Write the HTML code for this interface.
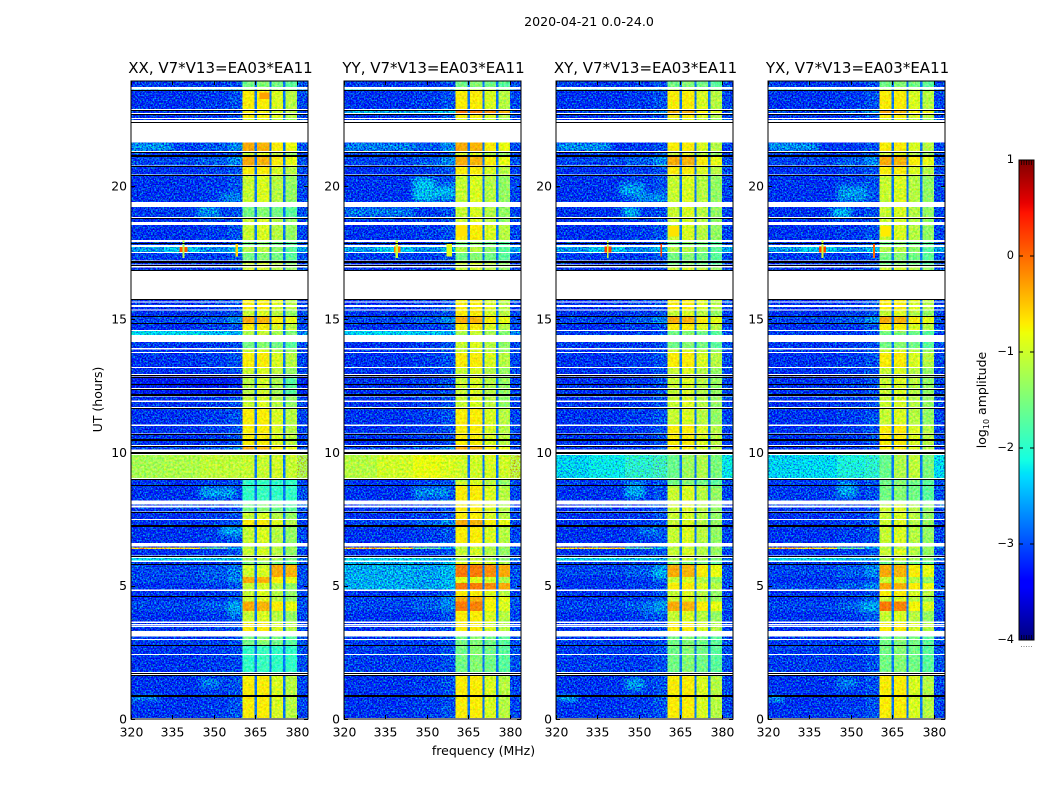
<!DOCTYPE html>
<html lang="en">
<head>
<meta charset="utf-8">
<title>2020-04-21 dynamic spectra</title>
<style>
html,body{margin:0;padding:0;background:#fff;}
svg{display:block;}
text{font-family:"DejaVu Sans","Liberation Sans",sans-serif;fill:#000;}
.tick{font-size:12.4px;}
.title{font-size:15px;}
.label{font-size:12.5px;}
</style>
</head>
<body>
<svg id="chart" xmlns="http://www.w3.org/2000/svg" width="1050" height="800" viewBox="0 0 1050 800">
<defs>
<filter id="speckle-strong" filterUnits="userSpaceOnUse" x="0" y="0" width="1050" height="800" color-interpolation-filters="sRGB">
<feTurbulence type="fractalNoise" baseFrequency="0.62" numOctaves="2" seed="7" result="n"/>
<feColorMatrix in="n" type="matrix" values="0 0 0 0 0.5  2.0 0 0 0 -0.5  0 1.6 0 0 -0.3  0 0 0 0 1" result="m"/>
<feComposite in="SourceGraphic" in2="m" operator="arithmetic" k1="0" k2="1" k3="1" k4="-0.5" result="c"/>
<feComposite in="c" in2="SourceGraphic" operator="in"/>
</filter>
<filter id="speckle-soft" filterUnits="userSpaceOnUse" x="0" y="0" width="1050" height="800" color-interpolation-filters="sRGB">
<feTurbulence type="fractalNoise" baseFrequency="0.45" numOctaves="2" seed="11" result="n"/>
<feColorMatrix in="n" type="matrix" values="0.7 0 0 0 0.15  0 0.4 0 0 0.3  0 0 0.6 0 0.2  0 0 0 0 1" result="m"/>
<feComposite in="SourceGraphic" in2="m" operator="arithmetic" k1="0" k2="1" k3="1" k4="-0.5" result="c"/>
<feComposite in="c" in2="SourceGraphic" operator="in"/>
</filter>
<filter id="patch-blur" x="-40%" y="-60%" width="180%" height="220%">
<feGaussianBlur stdDeviation="3"/>
</filter>
</defs>
<text x="589" y="26" text-anchor="middle" font-size="12.6">2020-04-21 0.0-24.0</text>
<text class="label" x="483.5" y="755" text-anchor="middle">frequency (MHz)</text>
<text class="label" transform="translate(102,399.5) rotate(-90)" text-anchor="middle">UT (hours)</text>
<text class="label" transform="translate(986,400) rotate(-90)" text-anchor="middle">log<tspan font-size="8" dy="3">10</tspan><tspan dy="-3"> amplitude</tspan></text>
</svg>
<script>
const panelNames = ["XX", "YY", "XY", "YX"];
const panelLefts = [131, 344, 556, 768];
const freqTicks = [320, 335, 350, 365, 380];
const timeTicks = [0, 5, 10, 15, 20];
const colorbarTicks = [1, 0, -1, -2, -3, -4];
const freqBandEdges = [320, 332, 345, 355, 360.4, 364.6, 365.6, 370, 370.8, 375, 375.9, 380, 384];
const gapBandLevel = -2.8;

const rowStarts = [0.04,0.90,1.76,2.44,2.78,3.00,3.30,3.50,3.57,3.66,4.05,4.40,4.62,4.85,5.10,5.33,5.82,5.95,6.13,6.38,6.44,6.60,7.28,7.51,7.78,8.00,8.19,8.78,9.04,10.11,10.28,10.50,10.70,11.04,11.70,11.95,12.17,12.41,12.57,12.84,12.94,13.21,13.77,13.92,14.40,14.59,14.86,15.12,15.36,15.52,15.66,16.84,17.05,17.20,17.52,17.78,17.86,17.97,18.64,18.83,19.40,20.42,20.76,21.16,21.30,22.47,22.54,22.73,22.88,23.61,23.70];
const rowEnds = [0.83,1.61,2.40,2.76,2.96,3.09,3.45,3.53,3.60,4.05,4.40,4.58,4.80,5.10,5.33,5.78,5.89,6.03,6.38,6.44,6.47,7.20,7.47,7.75,7.93,8.05,8.74,8.97,9.90,10.22,10.43,10.65,10.99,11.65,11.89,12.10,12.38,12.53,12.79,12.88,13.17,13.73,13.86,14.15,14.55,14.82,15.07,15.32,15.46,15.63,15.72,16.94,17.12,17.48,17.70,17.82,17.90,18.53,18.79,19.20,20.37,20.72,21.08,21.23,21.62,22.51,22.66,22.84,23.58,23.64,23.95];

const thinFlagTimes = [1.64,1.74,2.77,4.60,5.80,6.11,7.76,8.76,9.01,10.25,10.68,11.68,12.39,12.55,12.82,12.91,14.84,15.10,15.74,16.86,17.03,17.84,18.80,20.39,20.74,21.27,22.40,22.71,22.85,23.59];
const thickFlagTimes = [0.87,7.25,9.96,10.47,12.14,17.16,21.11];

/* log10 amplitude per band: low1..low4, yellow1..yellow4, upper edge */
const profileA = [-3.15,-3.15,-3.1,-3.0,-1.05,-0.95,-1.15,-1.35,-3.05];
const profileB = [-3.15,-3.15,-3.1,-3.0,-0.7,-0.7,-0.95,-1.15,-3.05];
const profileC = [-3.05,-3.05,-2.95,-2.75,-0.35,-0.4,-0.7,-0.85,-3.0];
const profileD = [-2.55,-2.55,-2.6,-2.5,-0.1,-0.1,-0.2,-0.35,-3.0];
const profileE = [-3.15,-3.15,-3.1,-3.05,-1.95,-1.9,-1.95,-1.95,-3.0];
const profileF = [-3.1,-3.1,-3.1,-3.0,-1.55,-1.45,-1.55,-1.7,-3.0];
const profileH = [-2.35,-2.35,-2.45,-2.55,-1.2,-1.05,-1.25,-1.45,-2.8];
const profileI = [-1.25,-1.2,-1.1,-1.1,-1.05,-1.05,-1.0,-1.05,-1.2];
const profileJ = [-1.15,-1.0,-0.85,-0.95,-1.0,-1.0,-0.95,-1.0,-1.1];
const profileK = [-2.35,-2.2,-2.0,-1.9,-1.6,-1.3,-1.2,-1.5,-2.2];
const profileL = [-2.35,-2.3,-2.1,-2.0,-1.6,-1.2,-1.1,-1.5,-2.3];
const profileM = [-3.3,-3.3,-3.3,-3.2,-1.15,-1.0,-1.25,-1.7,-3.25];
const profileO = [-0.5,-0.7,-1.6,-2.5,-1.2,-1.2,-1.2,-1.3,-2.8];
const profileP = [-2.65,-2.4,-2.7,-2.5,-1.2,-1.15,-1.4,-1.7,-2.6];
const profileR = [-2.55,-2.55,-2.6,-2.5,-0.9,-0.9,-1.0,-1.2,-3.0];
const profileS = [-3.05,-3.05,-2.95,-2.8,-1.0,-0.95,-0.35,-0.4,-3.0];
const profileT = [-3.05,-3.05,-2.95,-2.75,-0.1,-0.15,-0.75,-0.95,-3.0];
const profileLookup = {A:profileA,B:profileB,C:profileC,D:profileD,E:profileE,F:profileF,H:profileH,I:profileI,J:profileJ,K:profileK,L:profileL,M:profileM,O:profileO,P:profileP,R:profileR,S:profileS,T:profileT};

const xxRowProfile = [..."BBEEFFBBBACAAACSFHAOAABAFFEEICBBBBAAMMMMABAFHBCABBBAAFPFFAAFABCACABBBHF"];
const yyRowProfile = [..."BBFFFFBBBBTCBDRDRHAOABCBBBBAJCBBBBAAAAAAABAAHBCBBBBAAFPFFBAAABCACABDBHF"];
const xyRowProfile = [..."BBFFFFBBBACAABACFHAOAAAAAAAFKBBBBAAAAAAAABAFFBCABBBAFFPFFAAAABCABABCBHF"];
const yxRowProfile = [..."BBFFFFBBBATABCACFHAOAAAAAAFFLBBBBAAAAAAAABAFFBCABBBAFFPFFAAAABCABABCBHF"];
const panelRowProfiles = [xxRowProfile, yyRowProfile, xyRowProfile, yxRowProfile];

const patchPanels = [0,0,0,0,0,0,0,0, 1,1,1,1,1, 2,2,2,2,2,2,2,2,2,2,2, 3,3,3,3,3,3,3];
const patchTimeStarts = [18.85,19.4,21.3,8.3,6.9,1.2,3.9,0.7, 19.4,19.5,18.85,21.3,8.3, 19.6,19.4,18.85,21.3,8.3,4.0,5.3,1.1,0.7,6.9,3.9, 19.4,18.85,21.3,8.3,4.0,0.7,1.2];
const patchTimeEnds = [19.2,19.7,21.62,8.7,7.2,1.5,4.4,0.85, 20.3,20.0,19.2,21.6,8.7, 20.1,19.7,19.2,21.62,8.9,4.4,5.6,1.5,0.85,7.2,4.4, 20.0,19.15,21.62,8.9,4.4,0.85,1.5];
const patchFreqStarts = [344,352,320,345,352,345,355,320, 345,352,320,320,345, 343,348,344,320,345,355,355,345,320,350,351, 345,343,320,345,353,320,345];
const patchFreqEnds = [352,360.4,335,358,360.4,352,360.4,330, 353,360.4,345,345,358, 352,360.4,350,340,352,360.4,360.4,352,328,358,355, 356,350,338,352,360.4,326,352];
const patchLevels = [-2.6,-2.7,-2.6,-2.6,-2.5,-2.7,-2.6,-2.5, -2.45,-2.5,-2.75,-2.7,-2.7, -2.6,-2.65,-2.45,-2.6,-2.55,-2.65,-2.5,-2.6,-2.2,-2.8,-2.8, -2.65,-2.35,-2.6,-2.6,-2.6,-2.3,-2.7];

const spotPanels = [0,0,0,0, 1,1,1,1, 2,2,2,2, 3,3,3,3];
const spotTimeStarts = [17.52,17.3,17.35,23.25, 17.5,17.3,17.35,18.1, 17.5,17.3,17.35,18.1, 17.5,17.3,17.3,18.1];
const spotTimeEnds = [17.70,17.95,17.85,23.5, 17.72,17.95,17.85,18.5, 17.72,17.95,17.85,18.5, 17.72,17.95,17.85,18.5];
const spotFreqStarts = [337.5,338.7,357.8,366.5, 338,338.7,357,360.6, 337.5,338.5,357.7,360.6, 338.5,339.3,358,360.6];
const spotFreqEnds = [340.5,339.4,358.6,370, 340.5,339.6,359,364.5, 340,339,358.4,364.5, 341,340,358.7,364.5];
const spotLevels = [0.1,-1.2,-0.6,-0.3, -0.1,-1.0,-0.9,-0.65, 0.2,-1.0,0.2,-0.65, 0.2,-1.0,0.0,-0.7];

const NS = "http://www.w3.org/2000/svg";
const svg = document.getElementById("chart");
const defs = svg.querySelector("defs");
const panelWidth = 177;
const plotBottom = 719;
const plotTop = 81;
const pxPerHour = 26.66;
const pxPerMHz = panelWidth / 64;
const barLeft = 1019, barWidth = 15, barTop = 160, barHeight = 480;

function xScale(left, mhz) { return left + (mhz - 320) * pxPerMHz; }
function yScale(hours) { return Math.max(plotTop, plotBottom - hours * pxPerHour); }
function ramp(v, a, b) { return Math.min(1, Math.max(0, (v - a) / (b - a))); }
function jet(level) {
  const n = ramp(level, -4, 1);
  const r = n < 0.89 ? ramp(n, 0.35, 0.66) : 1 - 0.5 * ramp(n, 0.89, 1);
  const g = n < 0.64 ? ramp(n, 0.125, 0.375) : 1 - ramp(n, 0.64, 0.91);
  const b = n < 0.34 ? 0.5 + 0.5 * ramp(n, 0, 0.11) : 1 - ramp(n, 0.34, 0.65);
  return "rgb(" + Math.round(r * 255) + "," + Math.round(g * 255) + "," + Math.round(b * 255) + ")";
}
function node(parent, tag, attrs) {
  const el = document.createElementNS(NS, tag);
  for (const k in attrs) el.setAttribute(k, attrs[k]);
  parent.appendChild(el);
  return el;
}
function bandLevel(profile, band) {
  if (band === 5 || band === 7 || band === 9) return gapBandLevel;
  if (band < 5) return profile[band];
  if (band === 6) return profile[5];
  if (band === 8) return profile[6];
  if (band === 10) return profile[7];
  return profile[8];
}

panelNames.forEach(function (name, p) {
  const left = panelLefts[p];
  const panel = node(svg, "g", {});
  
  
  const lowGroup = node(panel, "g", {filter: "url(#speckle-strong)", "shape-rendering": "crispEdges"});
  
  
  const highGroup = node(panel, "g", {filter: "url(#speckle-soft)", "shape-rendering": "crispEdges"});
  
  
  const rowClip = node(defs, "clipPath", {id: "row-clip-" + p});
  rowStarts.forEach(function (start, r) {
    const profile = profileLookup[panelRowProfiles[p][r]];
    const y0 = yScale(rowEnds[r]);
    const y1 = yScale(start);
    node(rowClip, "rect", {x: left, y: y0, width: xScale(left, 360.4) - left, height: y1 - y0});
    for (let band = 0; band < freqBandEdges.length - 1; band++) {
      const x0 = xScale(left, freqBandEdges[band]);
      const x1 = xScale(left, freqBandEdges[band + 1]);
      const flat = profile === profileI || profile === profileJ;
      const target = (band >= 4 && band <= 10) || (flat && band !== 11) ? highGroup : lowGroup;
      const cell = node(target, "rect", {x: x0, y: y0, width: x1 - x0, height: y1 - y0, fill: jet(bandLevel(profile, band))});
      
      
    }
  });
  const patchClip = node(lowGroup, "g", {"clip-path": "url(#row-clip-" + p + ")"});
  
  
  patchPanels.forEach(function (pp, i) {
    if (pp !== p) return;
    const x0 = xScale(left, patchFreqStarts[i]);
    const y0 = yScale(patchTimeEnds[i]);
    const patch = node(patchClip, "rect", {x: x0, y: y0, width: xScale(left, patchFreqEnds[i]) - x0, height: yScale(patchTimeStarts[i]) - y0, fill: jet(patchLevels[i]), filter: "url(#patch-blur)", "shape-rendering": "auto"});
    
    
  });
  const spotGroup = node(panel, "g", {"shape-rendering": "crispEdges"});
  
  
  spotPanels.forEach(function (sp, i) {
    if (sp !== p) return;
    const x0 = xScale(left, spotFreqStarts[i]);
    const y0 = yScale(spotTimeEnds[i]);
    const spot = node(spotGroup, "rect", {x: x0, y: y0, width: xScale(left, spotFreqEnds[i]) - x0, height: yScale(spotTimeStarts[i]) - y0, fill: jet(spotLevels[i])});
    
    
  });
  const flagGroup = node(panel, "g", {"shape-rendering": "crispEdges", fill: "#000"});
  
  
  thinFlagTimes.forEach(function (t) {
    const line = node(flagGroup, "rect", {x: left, y: Math.round(yScale(t)), width: panelWidth, height: 1});
    
    
  });
  thickFlagTimes.forEach(function (t) {
    const line = node(flagGroup, "rect", {x: left, y: Math.round(yScale(t)) - 1, width: panelWidth, height: 2});
    
    
  });
  const frame = node(panel, "rect", {x: left, y: plotTop, width: panelWidth, height: plotBottom - plotTop, fill: "none", stroke: "#000", "stroke-width": 1});
  
  
  freqTicks.forEach(function (f) {
    const x = Math.round(xScale(left, f)) + 0.5;
    node(panel, "path", {d: "M" + x + " " + plotBottom + "v-4M" + x + " " + plotTop + "v4", stroke: "#000", "stroke-width": 1});
    const label = node(panel, "text", {x: x, y: 736.5, "text-anchor": "middle", class: "tick"});
    
    
    label.textContent = String(f);
  });
  timeTicks.forEach(function (t) {
    const y = Math.round(yScale(t)) + 0.5;
    node(panel, "path", {d: "M" + left + " " + y + "h4M" + (left + panelWidth) + " " + y + "h-4", stroke: "#000", "stroke-width": 1});
    const label = node(panel, "text", {x: left - 4, y: yScale(t) + 4.5, "text-anchor": "end", class: "tick"});
    
    
    label.textContent = String(t);
  });
  const title = node(panel, "text", {x: left + panelWidth / 2 + 1, y: 73, "text-anchor": "middle", class: "title"});
  
  
  title.textContent = name + ", V7*V13=EA03*EA11";
});

const colorbar = node(svg, "g", {});


function barY(level) { return barTop + (1 - level) / 5 * barHeight; }
for (let i = 0; i < barHeight; i++) {
  const level = 1 - (i + 0.5) / barHeight * 5;
  const strip = node(colorbar, "rect", {x: barLeft, y: barTop + i, width: barWidth, height: 1, fill: jet(level), "shape-rendering": "crispEdges"});
  
  
}
const barFrame = node(colorbar, "rect", {x: barLeft, y: barTop, width: barWidth, height: barHeight, fill: "none", stroke: "#000", "stroke-width": 1});


colorbarTicks.forEach(function (v) {
  const y = barY(v);
  node(colorbar, "path", {d: "M" + barLeft + " " + y + "h4M" + (barLeft + barWidth) + " " + y + "h-4", stroke: "#000", "stroke-width": 1});
  const label = node(colorbar, "text", {x: barLeft - 5, y: y + 3, "text-anchor": "end", "font-size": "11.4"});
  
  
  label.textContent = v < 0 ? "\u2212" + Math.abs(v) : String(v);
});
for (let k = 1; k < 6; k++) {
  const px = barLeft + k * barWidth / 6;
  node(colorbar, "path", {d: "M" + px + " " + barTop + "v5M" + px + " " + (barTop + barHeight) + "v-5", stroke: "#000", "stroke-width": 0.7});
  node(colorbar, "rect", {x: px - 0.5, y: 646, width: 1, height: 1, fill: "#888"});
}
</script>
</body>
</html>
